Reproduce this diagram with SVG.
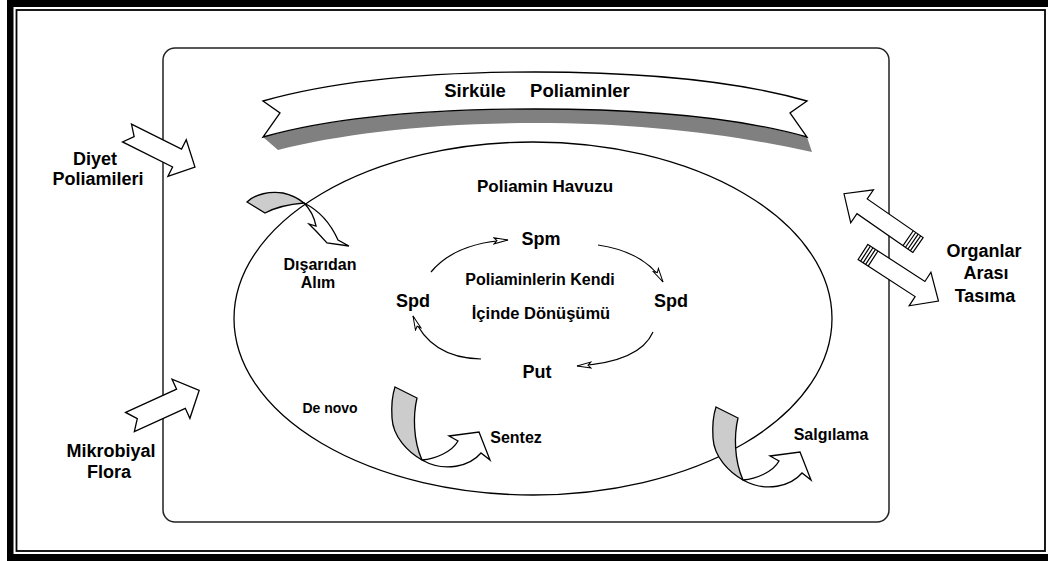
<svg xmlns="http://www.w3.org/2000/svg" xmlns:xlink="http://www.w3.org/1999/xlink" width="1048" height="561" viewBox="0 0 1048 561">
  <style>
    .lbl { font-family: "Liberation Sans", Arial, sans-serif; font-weight: bold; font-size: 18px; fill: #000; text-anchor: middle; }
    .in { font-family: "Liberation Sans", Arial, sans-serif; font-weight: bold; fill: #000; text-anchor: middle; }
    .blk { fill: #fff; stroke: #000; stroke-width: 1.3; stroke-linejoin: miter; }
    .grey { fill: #cccccc; stroke: #000; stroke-width: 1.3; }
    .cyc { fill: none; stroke: #000; stroke-width: 1.2; }
  </style>
  <defs>
    <marker id="ah" viewBox="0 0 16 8" refX="15" refY="4" markerWidth="16" markerHeight="8" markerUnits="userSpaceOnUse" orient="auto">
      <path d="M1,1 L15,4 L1,7 L4,4 Z" fill="#fff" stroke="#000" stroke-width="1"/>
    </marker>
    <path id="notchArrow" d="M0,-10 L56,-10 L56,-20.5 L76,0 L56,20.5 L56,10 L0,10 L8,0 Z"/>
    <g id="stripeArrow">
      <path d="M0,-9 L68,-9 L68,-20 L90,0 L68,20 L68,9 L0,9 Z"/>
      <path d="M3,-9 L3,9 M6,-9 L6,9 M9,-9 L9,9 M12,-9 L12,9" fill="none"/>
    </g>
    <g id="curved">
      <path class="grey" d="M395,387 L417,398 C413,415 413,440 422,460 C408,452 393,437 392,418 C391,402 393,393 395,387 Z"/>
      <path class="blk" d="M422,460 C435,459 452,452 458,441 L449,436 L479,432 L490,460 L481,453 C470,466 445,473 422,460 Z"/>
    </g>
  </defs>

  <rect x="0" y="0" width="1048" height="561" fill="#fff"/>

  <g id="frame">
    <rect x="7" y="0" width="6.5" height="561" fill="#000"/>
    <rect x="7" y="0" width="1041" height="7" fill="#000"/>
    <rect x="7" y="554" width="1041" height="7" fill="#000"/>
    <rect x="16.5" y="10" width="1028.5" height="541" fill="none" stroke="#000" stroke-width="1.8"/>
  </g>

  <g id="body">
    <rect x="163" y="48" width="726" height="474" rx="12" ry="12" fill="none" stroke="#222" stroke-width="1.5"/>
  </g>

  <g id="banner">
    <path d="M263,137 C330,118 420,109 535,109 C650,109 740,118 807,137 L812,152 C730,134 640,123 535,123 C430,123 340,134 278,150 Z" fill="#808080"/>
    <path d="M263,101 C330,82 420,72 535,72 C650,72 740,82 807,101 L790,113 L807,137 C740,118 650,109 535,109 C420,109 330,118 263,137 L280,113 Z" class="blk"/>
    <text class="in" x="537" y="97" font-size="18.5" word-spacing="19">Sirküle Poliaminler</text>
  </g>

  <g id="pool">
    <ellipse cx="533" cy="318.5" rx="299" ry="176.5" fill="none" stroke="#000" stroke-width="1.3"/>
    <text class="in" x="545" y="192" font-size="17">Poliamin Havuzu</text>
  </g>

  <g id="connectors">
    <path class="cyc" d="M431,272 Q455,243 508,240" marker-end="url(#ah)"/>
    <path class="cyc" d="M598,245 Q645,252 663,282" marker-end="url(#ah)"/>
    <path class="cyc" d="M653,332 Q640,362 577,366" marker-end="url(#ah)"/>
    <path class="cyc" d="M481,359 Q430,358 413,316" marker-end="url(#ah)"/>
  </g>

  <g id="cycle-center">
    <text class="in" x="540" y="285" font-size="16">Poliaminlerin Kendi</text>
    <text class="in" x="541" y="319" font-size="16.5">İçinde Dönüşümü</text>
  </g>
  <g id="spm"><text class="lbl" x="541" y="245">Spm</text></g>
  <g id="spd-left"><text class="lbl" x="413" y="307">Spd</text></g>
  <g id="spd-right"><text class="lbl" x="671" y="307">Spd</text></g>
  <g id="put"><text class="lbl" x="537" y="378">Put</text></g>

  <g id="diyet">
    <use xlink:href="#notchArrow" href="#notchArrow" class="blk" transform="translate(127,133) rotate(26.6)"/>
    <text class="lbl" x="95" y="165">Diyet</text>
    <text class="lbl" x="98" y="185">Poliamileri</text>
  </g>

  <g id="mikrobiyal">
    <use xlink:href="#notchArrow" href="#notchArrow" class="blk" transform="translate(130,422) rotate(-24.5) scale(1,1.05)"/>
    <text class="lbl" x="111" y="457">Mikrobiyal</text>
    <text class="lbl" x="109" y="478">Flora</text>
  </g>

  <g id="organlar">
    <use xlink:href="#stripeArrow" href="#stripeArrow" fill="#fff" stroke="#000" stroke-width="1.2" transform="translate(918,245) rotate(214.7)"/>
    <use xlink:href="#stripeArrow" href="#stripeArrow" fill="#fff" stroke="#000" stroke-width="1.2" transform="translate(863,252) rotate(33)"/>
    <text class="lbl" x="984" y="257">Organlar</text>
    <text class="lbl" x="986" y="279">Arası</text>
    <text class="lbl" x="985" y="302">Tasıma</text>
  </g>

  <g id="disaridan">
    <path class="grey" d="M247,202 C255,194 270,191 283,193 C292,195 299,199 304,203 C292,204 278,206 265,213 Z"/>
    <path class="blk" d="M304,203 C318,210 330,222 338,240 L349,246 L327,243 L316,231 L309,224 L316,226 C314,216 310,209 304,203 Z"/>
    <text class="in" x="320" y="270" font-size="16">Dışarıdan</text>
    <text class="in" x="318" y="288" font-size="16">Alım</text>
  </g>

  <g id="denovo">
    <use xlink:href="#curved" href="#curved"/>
    <text class="in" x="330" y="413" font-size="14">De novo</text>
    <text class="in" x="516" y="443" font-size="16">Sentez</text>
  </g>

  <g id="salgilama">
    <use xlink:href="#curved" href="#curved" transform="translate(321,20)"/>
    <text class="in" x="831" y="440" font-size="16">Salgılama</text>
  </g>
</svg>
